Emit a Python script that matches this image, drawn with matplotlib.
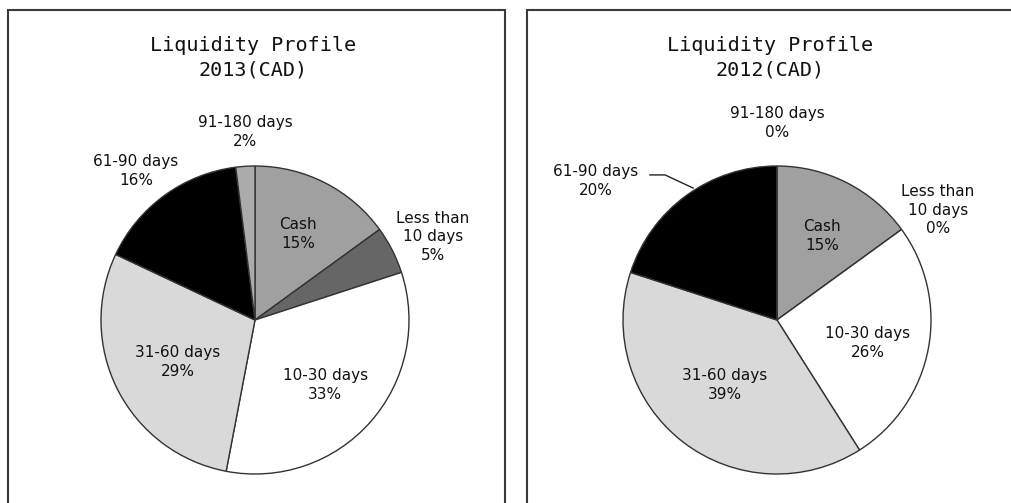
import matplotlib
matplotlib.use("Agg")
import matplotlib.pyplot as plt
from matplotlib.patches import Rectangle

# ---- data ----
categories = ["Cash", "Less than\n10 days", "10-30 days", "31-60 days", "61-90 days", "91-180 days"]
values_2013 = [15, 5, 33, 29, 16, 2]
values_2012 = [15, 0, 26, 39, 20, 0]
titles = ["Liquidity Profile\n2013(CAD)", "Liquidity Profile\n2012(CAD)"]
colors = ["#a0a0a0", "#666666", "#ffffff", "#d9d9d9", "#000000", "#ababab"]

W, H = 1011, 503
fig = plt.figure(figsize=(W / 100, H / 100), dpi=100)
fig.patch.set_facecolor("white")

R = 154
centers = [(255, 320), (777, 320)]

label_pos = [
    [(0.279, 0.558), (1.156, 0.539), (0.455, -0.422), (-0.50, -0.273), (-0.773, 0.968), (-0.065, 1.221)],
    [(0.292, 0.545), (1.045, 0.714), (0.591, -0.149), (-0.338, -0.422), (-1.175, 0.903), (0.0, 1.279)],
]

label_font = "DejaVu Sans"
title_font = "DejaVu Sans Mono"

# panel borders
fig.patches.append(Rectangle((8 / W, -0.2), (505 - 8) / W, 0.2 + (H - 10) / H,
                             transform=fig.transFigure, fill=False,
                             edgecolor="#3a3a3a", linewidth=1.5))
fig.patches.append(Rectangle((527 / W, -0.2), 0.6, 0.2 + (H - 10) / H,
                             transform=fig.transFigure, fill=False,
                             edgecolor="#3a3a3a", linewidth=1.5))

for i, (vals, title) in enumerate(zip([values_2013, values_2012], titles)):
    cx, cy = centers[i]
    ax = fig.add_axes([(cx - R) / W, (H - cy - R) / H, 2 * R / W, 2 * R / H])
    ax.pie(vals, colors=colors, startangle=90, counterclock=False, radius=1,
           wedgeprops=dict(edgecolor="#333333", linewidth=1.0))
    ax.set_xlim(-1, 1)
    ax.set_ylim(-1, 1)
    ax.set_aspect("equal")
    ax.axis("off")
    for cat, v, (lx, ly) in zip(categories, vals, label_pos[i]):
        ax.text(lx, ly, f"{cat}\n{v}%", ha="center", va="center", fontsize=11,
                family=label_font, linespacing=1.3, color="#111111", clip_on=False)
    # title
    tx = (cx - 2 + (0 if i == 0 else -5)) / W
    fig.text(tx, 1 - 58 / H, title, ha="center", va="center", fontsize=14.5,
             family=title_font, linespacing=1.35, color="#111111")

    if i == 1:
        ax.plot([-0.825, -0.727, -0.545], [0.942, 0.942, 0.857], color="#222222",
                linewidth=1.0, clip_on=False)

fig.savefig("out.png", dpi=100, facecolor="white")
